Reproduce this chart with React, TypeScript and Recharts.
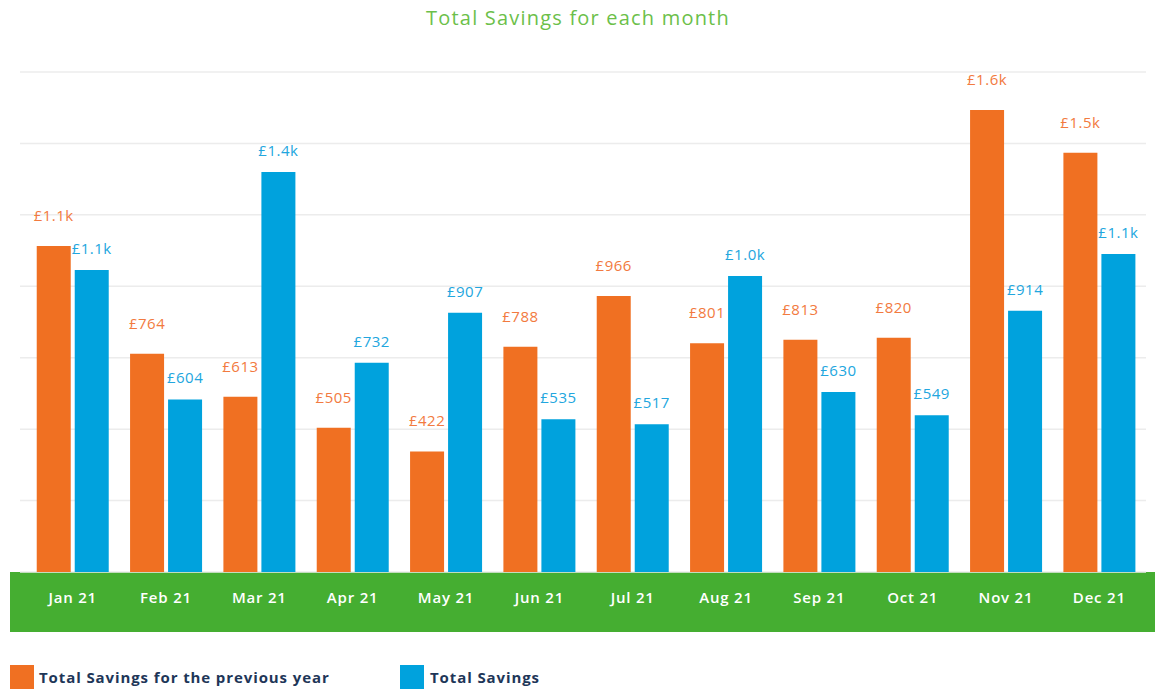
import { BarChart, Bar, XAxis, YAxis, CartesianGrid, LabelList } from "recharts";

const months = ["Jan 21", "Feb 21", "Mar 21", "Apr 21", "May 21", "Jun 21", "Jul 21", "Aug 21", "Sep 21", "Oct 21", "Nov 21", "Dec 21"];
const previousYear = [1141, 764, 613, 505, 422, 788, 966, 801, 813, 820, 1617, 1467];
const savings = [1057, 604, 1400, 732, 907, 535, 517, 1036, 630, 549, 914, 1113];
const yTicks = [0, 250, 500, 750, 1000, 1250, 1500, 1750];

const ORANGE = "#f07022";
const BLUE = "#00a2dd";
const GREEN = "#45ae31";
const FONT = "'Open Sans', sans-serif";

const data = months.map((m, i) => ({ month: m, prev: previousYear[i], cur: savings[i] }));

function money(v: number) {
  if (v >= 1000) return "£" + (v / 1000).toFixed(1) + "k";
  return "£" + Math.round(v);
}

function makeLabel(color: string, lift: number) {
  return (props: any) => {
    const { x, y, width, value } = props;
    return (
      <text
        x={Number(x) + Number(width) / 2}
        y={Number(y) - lift}
        textAnchor="middle"
        dominantBaseline="central"
        fill={color}
        fontSize={15}
        fontFamily={FONT}
        letterSpacing={0.5}
      >
        {money(value)}
      </text>
    );
  };
}

export default function App() {
  return (
    <div style={{ position: "absolute", left: 0, top: 0, width: 1156, height: 691, background: "#fff", fontFamily: FONT }}>
      <div style={{ position: "absolute", top: 4, width: 1156, textAlign: "center", color: "#6cbf4a", fontSize: 20, letterSpacing: 1.2 }}>
        Total Savings for each month
      </div>
      <div style={{ position: "absolute", left: 10, top: 572, width: 1145, height: 60, background: GREEN }} />
      <div style={{ position: "absolute", left: 0, top: 0 }}>
        <BarChart
          width={1156}
          height={640}
          data={data}
          margin={{ top: 72, right: 10, left: 20, bottom: 8 }}
          barCategoryGap="11.5%"
          barGap={4}
        >
          <CartesianGrid vertical={false} stroke="#ececec" strokeWidth={1.5} />
          <YAxis hide domain={[0, 1750]} ticks={yTicks} />
          <XAxis
            dataKey="month"
            height={60}
            axisLine={false}
            tickLine={false}
            padding={{ left: 6, right: 0 }}
            tick={{ fill: "#fff", fontSize: 15, fontWeight: 600, fontFamily: FONT, letterSpacing: 0.8 }}
            dy={12}
          />
          <Bar dataKey="prev" fill={ORANGE} isAnimationActive={false}>
            <LabelList dataKey="prev" content={makeLabel("#f27a40", 31)} />
          </Bar>
          <Bar dataKey="cur" fill={BLUE} isAnimationActive={false}>
            <LabelList dataKey="cur" content={makeLabel("#22a6de", 22)} />
          </Bar>
        </BarChart>
      </div>
      <div style={{ position: "absolute", left: 10, top: 665, display: "flex", alignItems: "center", color: "#1e3658", fontWeight: 700, fontSize: 15, letterSpacing: 0.9 }}>
        <span style={{ width: 24, height: 24, background: ORANGE, display: "inline-block", marginRight: 5 }} />
        <span style={{ width: 361 }}>Total Savings for the previous year</span>
        <span style={{ width: 24, height: 24, background: BLUE, display: "inline-block", marginRight: 6 }} />
        <span>Total Savings</span>
      </div>
    </div>
  );
}
